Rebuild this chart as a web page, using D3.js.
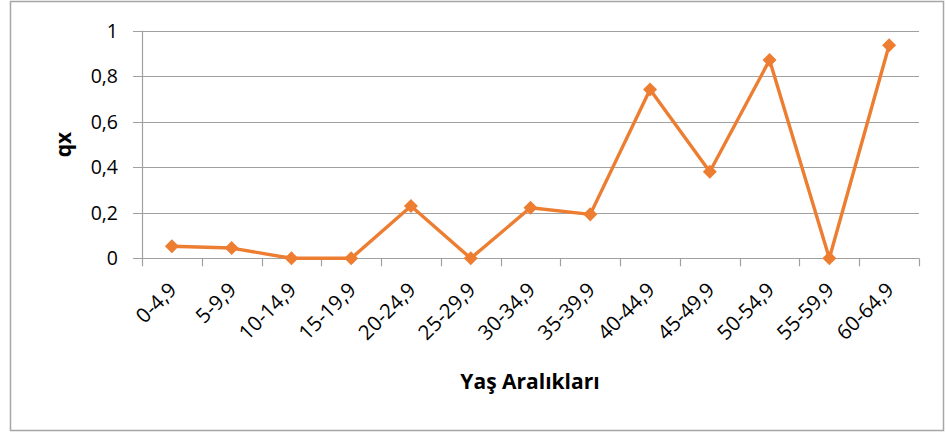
<!DOCTYPE html>
<html>
<head>
<meta charset="utf-8">
<script src="https://cdn.jsdelivr.net/npm/d3@7"></script>
<style>
  body { margin: 0; background: #fff; }
  svg { display: block; font-family: "Open Sans", sans-serif; }
</style>
</head>
<body>
<svg width="946" height="434"></svg>
<script>
let width = 946,
    height = 434;

let categories = ["0-4,9", "5-9,9", "10-14,9", "15-19,9", "20-24,9", "25-29,9", "30-34,9",
    "35-39,9", "40-44,9", "45-49,9", "50-54,9", "55-59,9", "60-64,9"];
let qxValues = [0.053, 0.045, 0, 0, 0.23, 0, 0.222, 0.193, 0.742, 0.38, 0.871, 0, 0.936];
let yTicks = [0, 0.2, 0.4, 0.6, 0.8, 1];

let margin = {top: 31, right: 27, bottom: 176, left: 142};

let svg = d3.select("svg");

// chart border
svg.append("rect")
    .attr("x", 10.5)
    .attr("y", 1.5)
    .attr("width", 933)
    .attr("height", 429)
    .attr("fill", "#fff")
    .attr("stroke", "#a6a6a6")
    .attr("stroke-width", 1.5);

let x = d3.scaleBand()
    .domain(categories)
    .range([margin.left, width - margin.right]);

let y = d3.scaleLinear()
    .domain([0, 1])
    .range([258.3, 30.7]);

let fmt = d => d3.format(".1~f")(d).replace(".", ",");

// gridlines
svg.append("g")
    .selectAll("line")
    .data(yTicks)
    .enter().append("line")
    .attr("x1", margin.left - 9)
    .attr("x2", width - margin.right)
    .attr("y1", d => Math.round(y(d)) + 0.5)
    .attr("y2", d => Math.round(y(d)) + 0.5)
    .attr("stroke", "#a0a0a0")
    .attr("stroke-width", 1.2);

// y axis line
svg.append("line")
    .attr("x1", margin.left + 0.5)
    .attr("x2", margin.left + 0.5)
    .attr("y1", y(1))
    .attr("y2", y(0))
    .attr("stroke", "#a0a0a0")
    .attr("stroke-width", 1.2);

// x ticks at category boundaries
let bounds = categories.map(c => x(c)).concat([x.range()[1]]);
svg.append("g")
    .selectAll("line")
    .data(bounds)
    .enter().append("line")
    .attr("x1", d => Math.round(d) + 0.5)
    .attr("x2", d => Math.round(d) + 0.5)
    .attr("y1", y(0))
    .attr("y2", y(0) + 8)
    .attr("stroke", "#a0a0a0")
    .attr("stroke-width", 1.2);

// y labels
svg.append("g")
    .selectAll("text")
    .data(yTicks)
    .enter().append("text")
    .attr("x", 118)
    .attr("y", d => y(d))
    .attr("dy", "0.36em")
    .attr("text-anchor", "end")
    .attr("font-size", 19.5)
    .attr("fill", "#000")
    .text(fmt);

// x labels
svg.append("g")
    .selectAll("text")
    .data(categories)
    .enter().append("text")
    .attr("transform", d => `translate(${x(d) + x.bandwidth() / 2 + 6},${y(0) + 33}) rotate(-45)`)
    .attr("text-anchor", "end")
    .attr("font-size", 20.5)
    .attr("fill", "#000")
    .text(d => d);

// axis titles
svg.append("text")
    .attr("x", 530)
    .attr("y", 389)
    .attr("text-anchor", "middle")
    .attr("font-size", 21)
    .attr("font-weight", "bold")
    .text("Yaş Aralıkları");

svg.append("text")
    .attr("transform", `translate(71,${(y(0) + y(1)) / 2}) rotate(-90)`)
    .attr("text-anchor", "middle")
    .attr("font-size", 21)
    .attr("font-weight", "bold")
    .text("qx");

// series
let line = d3.line()
    .x((d, i) => x(categories[i]) + x.bandwidth() / 2)
    .y(d => y(d));

svg.append("path")
    .datum(qxValues)
    .attr("d", line)
    .attr("fill", "none")
    .attr("stroke", "#ed7d31")
    .attr("stroke-width", 3.4)
    .attr("stroke-linejoin", "round");

svg.append("g")
    .selectAll("path")
    .data(qxValues)
    .enter().append("path")
    .attr("d", d3.symbol().type(d3.symbolDiamond2).size(125))
    .attr("transform", (d, i) => `translate(${x(categories[i]) + x.bandwidth() / 2},${y(d)})`)
    .attr("fill", "#ed7d31");
</script>
</body>
</html>
